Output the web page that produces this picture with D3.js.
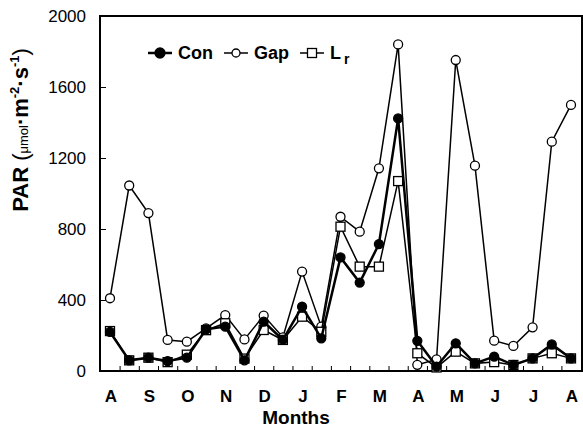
<!DOCTYPE html>
<html>
<head>
<meta charset="utf-8">
<script src="https://cdn.jsdelivr.net/npm/d3@7"></script>
<style>
  body { margin: 0; background: #fff; }
  text { font-family: "Liberation Sans", Arial, sans-serif; fill: #000; }
</style>
</head>
<body>
<script>
const WIDTH = 583;
const HEIGHT = 429;
const LEFT = 100, RIGHT = 582, TOP = 16, BOTTOM = 371;

// half-monthly samples, Aug .. Aug
const monthLabels = ["A", "S", "O", "N", "D", "J", "F", "M", "A", "M", "J", "J", "A"];
const conValues = [220, 60, 75, 56, 75, 235, 250, 60, 278, 175, 362, 184, 640, 498, 715, 1423, 170, 25, 156, 43, 81, 34, 71, 150, 71];
const gapValues = [410, 1045, 890, 175, 165, 240, 315, 178, 312, 190, 560, 250, 869, 785, 1142, 1840, 35, 65, 1752, 1157, 171, 141, 246, 1292, 1499];
const lrValues  = [225, 60, 75, 50, 92, 230, 269, 70, 231, 175, 306, 221, 813, 588, 588, 1070, 100, 20, 109, 43, 50, 34, 71, 100, 71];
const yTicks = [0, 400, 800, 1200, 1600, 2000];

const svg = d3.select("body").append("svg")
    .attr("width", WIDTH)
    .attr("height", HEIGHT);

const x = d3.scaleLinear().domain([0, conValues.length - 1]).range([110, 571]);
const y = d3.scaleLinear().domain([0, 2000]).range([BOTTOM, TOP]);

// frame
svg.append("rect")
    .attr("x", LEFT).attr("y", TOP)
    .attr("width", RIGHT - LEFT).attr("height", BOTTOM - TOP)
    .attr("fill", "none").attr("stroke", "#000").attr("stroke-width", 2);

// y axis, ticks pointing inward
const yAxis = d3.axisRight(y).tickValues(yTicks).tickSize(6).tickFormat("");
svg.append("g").attr("transform", "translate(" + LEFT + ",0)").call(yAxis)
    .call(g => g.select(".domain").remove());

svg.selectAll(".ylab").data(yTicks).enter().append("text")
    .attr("class", "ylab")
    .attr("x", 86).attr("y", d => y(d) + 6)
    .attr("text-anchor", "end")
    .style("font-size", "17px")
    .text(d => d);

// x axis minor ticks between samples, pointing up
const xTickPos = d3.range(0.5, conValues.length - 1, 1);
const xAxis = d3.axisTop(x).tickValues(xTickPos).tickSize(5).tickFormat("");
svg.append("g").attr("transform", "translate(0," + BOTTOM + ")").call(xAxis)
    .call(g => g.select(".domain").remove());

svg.selectAll(".xlab").data(monthLabels).enter().append("text")
    .attr("class", "xlab")
    .attr("x", (d, i) => x(i * 2) + 1).attr("y", 402)
    .attr("text-anchor", "middle")
    .style("font-size", "17px").style("font-weight", "bold")
    .text(d => d);

svg.append("text")
    .attr("x", 296).attr("y", 424)
    .attr("text-anchor", "middle")
    .style("font-size", "19px").style("font-weight", "bold")
    .text("Months");

// y title
const yt = svg.append("text")
    .attr("transform", "translate(28,130) rotate(-90)")
    .attr("text-anchor", "middle")
    .style("font-weight", "bold");
yt.append("tspan").style("font-size", "22px").text("PAR ");
yt.append("tspan").style("font-size", "22px").style("font-weight", "normal").text("(");
yt.append("tspan").style("font-size", "13px").style("font-weight", "normal").text("μmol");
yt.append("tspan").style("font-size", "22px").text("·m");
yt.append("tspan").style("font-size", "13px").attr("dy", -9).text("-2");
yt.append("tspan").style("font-size", "22px").attr("dy", 9).text("·s");
yt.append("tspan").style("font-size", "13px").attr("dy", -9).text("-1");
yt.append("tspan").style("font-size", "22px").style("font-weight", "normal").attr("dy", 9).text(")");

const line = d3.line().x((d, i) => x(i)).y(d => y(d));

function drawSeries(values, marker, width) {
  svg.append("path").datum(values)
      .attr("d", line)
      .attr("fill", "none").attr("stroke", "#000").attr("stroke-width", width);
  const g = svg.append("g");
  if (marker === "square") {
    g.selectAll("rect").data(values).enter().append("rect")
        .attr("x", (d, i) => x(i) - 4.5).attr("y", d => y(d) - 4.5)
        .attr("width", 9).attr("height", 9)
        .attr("fill", "#fff").attr("stroke", "#000").attr("stroke-width", 1.3);
  } else {
    g.selectAll("circle").data(values).enter().append("circle")
        .attr("cx", (d, i) => x(i)).attr("cy", d => y(d))
        .attr("r", 4.5)
        .attr("fill", marker === "filled" ? "#000" : "#fff")
        .attr("stroke", "#000").attr("stroke-width", 1.3);
  }
}

drawSeries(gapValues, "open", 1.5);
drawSeries(lrValues, "square", 1.5);
drawSeries(conValues, "filled", 2.5);

// legend
const legend = [
  { name: "Con", marker: "filled", x: 148 },
  { name: "Gap", marker: "open", x: 224 },
  { name: "L", marker: "square", x: 300 }
];
const ly = 53;
legend.forEach(l => {
  svg.append("line").attr("x1", l.x).attr("x2", l.x + 24)
      .attr("y1", ly).attr("y2", ly)
      .attr("stroke", "#000").attr("stroke-width", l.marker === "filled" ? 2.5 : 1.5);
  if (l.marker === "square") {
    svg.append("rect").attr("x", l.x + 12 - 4.5).attr("y", ly - 4.5)
        .attr("width", 9).attr("height", 9)
        .attr("fill", "#fff").attr("stroke", "#000").attr("stroke-width", 1.3);
  } else {
    svg.append("circle").attr("cx", l.x + 12).attr("cy", ly).attr("r", l.marker === "filled" ? 5 : 4)
        .attr("fill", l.marker === "filled" ? "#000" : "#fff")
        .attr("stroke", "#000").attr("stroke-width", 1.3);
  }
  const t = svg.append("text").attr("x", l.x + 30).attr("y", ly + 6)
      .style("font-size", "18px").style("font-weight", "bold").text(l.name);
  if (l.name === "L") {
    t.append("tspan").attr("dx", 3).attr("dy", 5).style("font-size", "14px").text("r");
  }
});
</script>
</body>
</html>
